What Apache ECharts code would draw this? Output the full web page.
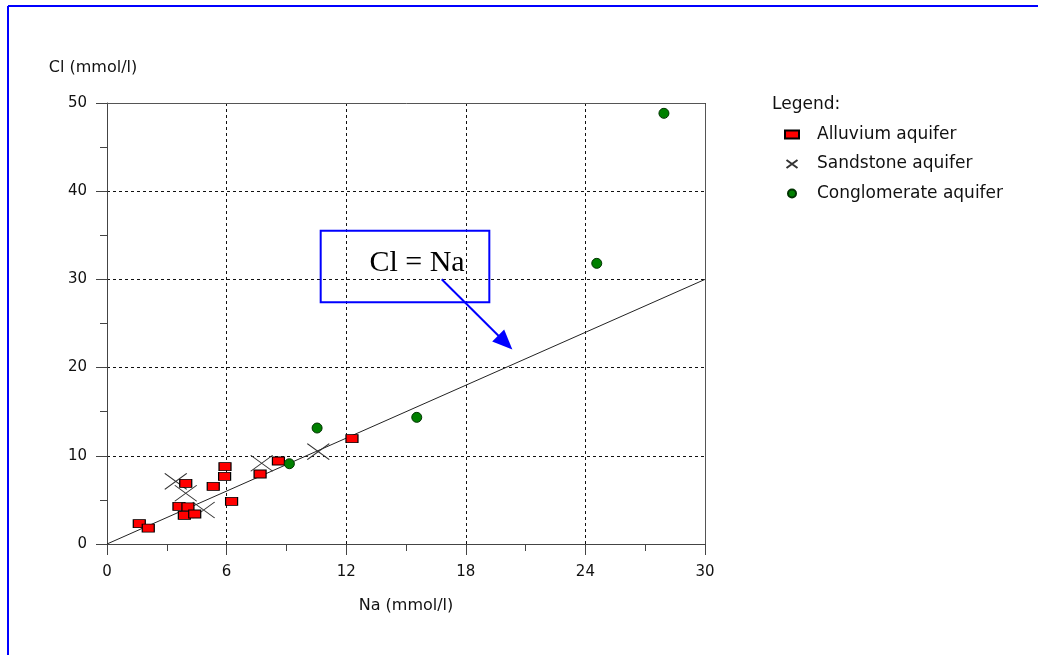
<!DOCTYPE html>
<html>
<head>
<meta charset="utf-8">
<title>Cl vs Na</title>
<script src="https://cdn.jsdelivr.net/npm/echarts@6/dist/echarts.min.js"></script>
<style>
  html, body { margin: 0; padding: 0; background: #fff; }
  #chart { width: 1038px; height: 655px; }
</style>
</head>
<body>
<div id="chart"></div>
<script>
// Na / Cl in mmol/l
var naAlluvium = [1.62, 2.07, 3.61, 4.06, 3.88, 4.40, 3.95, 5.33, 5.90, 5.92, 6.25, 7.68, 8.60, 12.29]
var clAlluvium = [2.30, 1.81, 4.27, 4.20, 3.25, 3.40, 6.88, 6.54, 7.67, 8.77, 4.84, 7.94, 9.41, 11.94]
var naSandstone = [3.45, 3.95, 4.85, 7.76, 10.60]
var clSandstone = [7.10, 5.75, 3.85, 9.15, 10.47]
var naConglomerate = [9.15, 10.54, 15.54, 24.57, 27.94]
var clConglomerate = [9.10, 13.15, 14.36, 31.82, 48.83]
var refLineNa = [0, 30]
var refLineCl = [0, 30]
var seriesNames = ['Alluvium aquifer', 'Sandstone aquifer', 'Conglomerate aquifer']

function pairs (xs, ys) {
  var out = []
  for (var i = 0; i < xs.length; i++) {
    out.push([xs[i], ys[i]])
  }
  return out
}

var font = 'DejaVu Sans'
var crossPath = 'path://M0,0L22,16M0,16L22,0'

var chart = echarts.init(document.getElementById('chart'))
var option = {
  animation: false,
  textStyle: { fontFamily: font, color: '#111' },
  grid: { left: 107, top: 103, right: 333, bottom: 111 },
  graphic: [
    // blue frame on top / left edge
    { type: 'line', shape: { x1: 8, y1: 6, x2: 1038, y2: 6 }, style: { stroke: '#0000ff', lineWidth: 2 } },
    { type: 'line', shape: { x1: 8, y1: 6, x2: 8, y2: 655 }, style: { stroke: '#0000ff', lineWidth: 2 } },
    // plot frame top / right
    { type: 'line', shape: { x1: 107, y1: 103.5, x2: 705.5, y2: 103.5 }, style: { stroke: '#555', lineWidth: 1 }, z: 5 },
    { type: 'line', shape: { x1: 705.5, y1: 103.5, x2: 705.5, y2: 544 }, style: { stroke: '#555', lineWidth: 1 }, z: 5 },
    { type: 'text', left: 772, top: 96, style: { text: 'Legend:', font: '17px "DejaVu Sans"', fill: '#111' } }
  ],
  legend: {
    orient: 'vertical',
    left: 779,
    top: 121,
    itemWidth: 14,
    itemHeight: 8,
    itemGap: 12.5,
    selectedMode: false,
    textStyle: { fontFamily: font, fontSize: 17, color: '#111', padding: [0, 0, 0, 13] },
    data: [
      { name: seriesNames[0], icon: 'rect' },
      { name: seriesNames[1], icon: crossPath },
      { name: seriesNames[2], icon: 'circle' }
    ]
  },
  xAxis: {
    type: 'value',
    min: 0,
    max: 30,
    interval: 6,
    name: 'Na (mmol/l)',
    nameLocation: 'middle',
    nameGap: 54,
    nameTextStyle: { fontFamily: font, fontSize: 16, color: '#111' },
    axisLine: { onZero: false, lineStyle: { color: '#444', width: 1 } },
    axisTick: { length: 11, lineStyle: { color: '#444' } },
    minorTick: { show: true, splitNumber: 2, length: 7, lineStyle: { color: '#444' } },
    axisLabel: { margin: 21, fontFamily: font, fontSize: 15, color: '#111' },
    splitLine: { show: true, lineStyle: { color: '#111', type: [3, 3], width: 1 } }
  },
  yAxis: {
    type: 'value',
    min: 0,
    max: 50,
    interval: 10,
    name: 'Cl (mmol/l)',
    nameLocation: 'end',
    nameGap: 27,
    nameTextStyle: { fontFamily: font, fontSize: 16, color: '#111', padding: [0, 28, 0, 0] },
    axisLine: { show: true, onZero: false, lineStyle: { color: '#444', width: 1 } },
    axisTick: { show: true, length: 11, lineStyle: { color: '#444' } },
    minorTick: { show: true, splitNumber: 2, length: 7, lineStyle: { color: '#444' } },
    axisLabel: { margin: 20, fontFamily: font, fontSize: 15, color: '#111' },
    splitLine: { show: true, lineStyle: { color: '#111', type: [3, 3], width: 1 } }
  },
  series: [
    {
      // Cl = Na reference line with annotation
      type: 'line',
      name: 'Cl = Na',
      data: pairs(refLineNa, refLineCl),
      showSymbol: false,
      silent: true,
      lineStyle: { color: '#222', width: 1 },
      z: 1,
      markArea: {
        silent: true,
        itemStyle: { color: 'rgba(0,0,0,0)', borderColor: '#0000ff', borderWidth: 2 },
        label: {
          show: true,
          position: 'inside',
          offset: [12, -3],
          formatter: 'Cl = Na',
          fontFamily: 'Liberation Serif',
          fontSize: 30,
          color: '#000'
        },
        data: [[{ coord: [10.72, 35.52] }, { coord: [19.18, 27.40] }]]
      },
      markLine: {
        silent: true,
        symbol: ['none', 'triangle'],
        symbolSize: [17, 20],
        label: { show: false },
        lineStyle: { color: '#0000ff', width: 2, type: 'solid' },
        data: [[{ coord: [16.79, 30.01] }, { coord: [19.98, 22.85] }]]
      }
    },
    {
      type: 'scatter',
      name: seriesNames[0],
      data: pairs(naAlluvium, clAlluvium),
      symbol: 'rect',
      symbolSize: [12, 8],
      itemStyle: { color: '#ff0000', borderColor: '#000', borderWidth: 1, opacity: 1 },
      z: 3
    },
    {
      type: 'scatter',
      name: seriesNames[1],
      data: pairs(naSandstone, clSandstone),
      symbol: crossPath,
      symbolSize: [22, 16],
      itemStyle: { color: 'rgba(0,0,0,0)', borderColor: '#333', borderWidth: 1, opacity: 1 },
      z: 2
    },
    {
      type: 'scatter',
      name: seriesNames[2],
      data: pairs(naConglomerate, clConglomerate),
      symbol: 'circle',
      symbolSize: 10,
      itemStyle: { color: '#008000', borderColor: '#003300', borderWidth: 1, opacity: 1 },
      z: 3
    }
  ]
}
chart.setOption(option)
</script>
</body>
</html>
